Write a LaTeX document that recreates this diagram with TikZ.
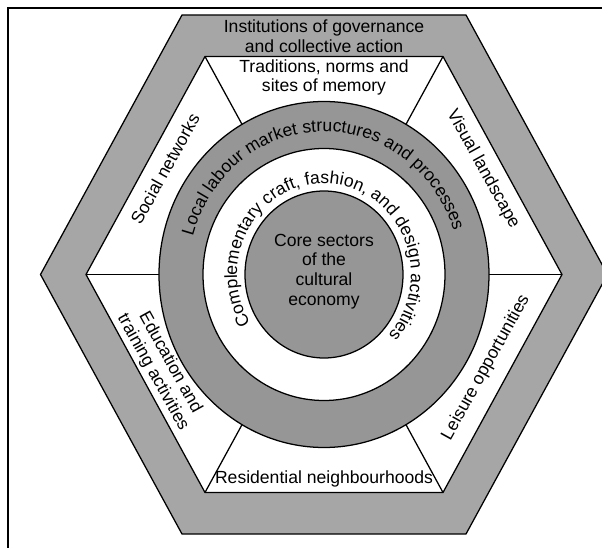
\documentclass[tikz,border=0pt]{standalone}
\usepackage{fontspec}
\setmainfont{Liberation Sans}
\usetikzlibrary{decorations.text}
\definecolor{bandgrey}{RGB}{166,166,166}
\definecolor{ringgrey}{RGB}{150,150,150}

\begin{document}
\begin{tikzpicture}[scale=0.025, line width=0.9pt,
	lbl/.style={font=\fontsize{12.5}{14}\selectfont, align=center, inner sep=0pt},
	ringtext/.style={decorate, decoration={text along path, text align=center,
		text={|\fontsize{12.5}{14}\selectfont|#1}}}]
	\useasboundingbox (-324,-273.5) rectangle (278,274.5);
	\clip (-324,-273.5) rectangle (278,274.5);
	\draw[line width=1.2pt] (-316,-300) -- (-316,266.5) -- (300,266.5);
	\filldraw[fill=bandgrey] (283.5,0) -- (142,259.5) -- (-142,259.5) -- (-283.5,0) -- (-142,-259.5) -- (142,-259.5) -- cycle;
	\filldraw[fill=white] (238,0) -- (119,218) -- (-119,218) -- (-238,0) -- (-119,-218) -- (119,-218) -- cycle;
	\draw (238,0)--(-238,0);
	\draw (119,218)--(-119,-218);
	\draw (-119,218)--(119,-218);
	\filldraw[fill=ringgrey] (0,0) ellipse [x radius=165, y radius=173];
	\filldraw[fill=white] (0,0) ellipse [x radius=121, y radius=126];
	\filldraw[fill=ringgrey] (0,0) ellipse [x radius=79, y radius=83.5];
	\path[ringtext={Local labour market structures and processes}] (192:136 and 143) arc [start angle=192, end angle=-10, x radius=136, y radius=143];
	\path[ringtext={Complementary craft, fashion, and design activities}] (245:87 and 91) arc [start angle=245, end angle=-75, x radius=87, y radius=91];
	\node[lbl] at (0,238.5) {Institutions of governance\\and collective action};
	\node[lbl] at (0,197) {Traditions, norms and\\sites of memory};
	\node[lbl] at (0,-204) {Residential neighbourhoods};
	\node[lbl, rotate=61] at (-159,105.5) {Social networks};
	\node[lbl, rotate=-61] at (159,105.5) {Visual landscape};
	\node[lbl, rotate=-61] at (-162.5,-93) {Education and\\training activities};
	\node[lbl, rotate=61] at (162,-93) {Leisure opportunities};
	\node[lbl] at (0,3) {Core sectors\\of the\\cultural\\economy};
\end{tikzpicture}
\end{document}
